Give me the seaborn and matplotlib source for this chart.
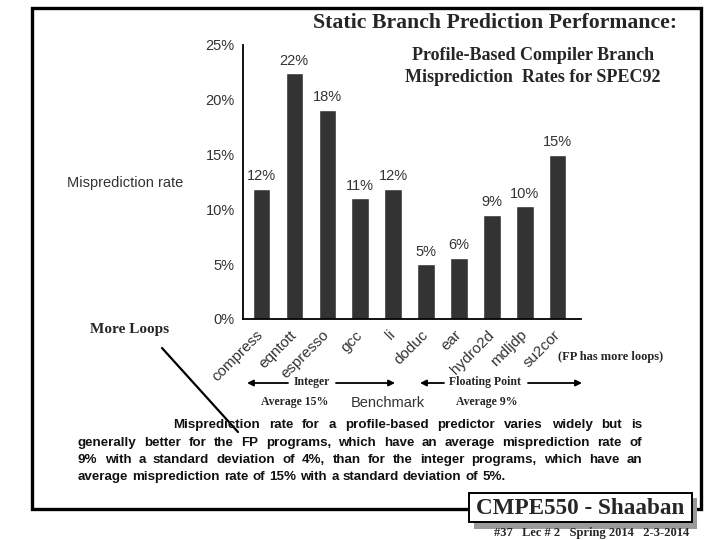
import numpy as np
import pandas as pd
import matplotlib
matplotlib.use("Agg")
import matplotlib.pyplot as plt
import seaborn as sns
from matplotlib.patches import Rectangle
from matplotlib.lines import Line2D

# data
benchmarks = ['compress', 'eqntott', 'espresso', 'gcc', 'li',
              'doduc', 'ear', 'hydro2d', 'mdljdp', 'su2cor']
rates = [11.9, 22.4, 19.1, 11.0, 11.9, 5.0, 5.6, 9.5, 10.3, 15.0]
bar_text = ['12%', '22%', '18%', '11%', '12%', '5%', '6%', '9%', '10%', '15%']
y_ticks = [0, 5, 10, 15, 20, 25]

paragraph = [
    "Misprediction rate for a profile-based predictor varies widely but is",
    "generally better for the FP programs, which have an average misprediction rate of",
    "9% with a standard deviation of 4%, than for the integer programs, which have an",
    "average misprediction rate of 15% with a standard deviation of 5%.",
]

df = pd.DataFrame({'Benchmark': benchmarks, 'Rate': rates})

sns.set_style("white")
SERIF = 'Liberation Serif'
SANS = 'Liberation Sans'
GREY = '#333333'

W, H = 720, 540
fig = plt.figure(figsize=(7.2, 5.4), dpi=100)
renderer = fig.canvas.get_renderer()


def px(x, y):
    # pixel position (top-left origin) -> figure fraction
    return x / W, 1 - y / H


def fit_text(s, x0, x1, y, **kw):
    # size the text so it spans x0..x1 pixels
    t = fig.text(*px((x0 + x1) / 2, y), s, ha='center', va='center',
                 fontsize=10, **kw)
    w = t.get_window_extent(renderer).width
    t.set_fontsize(10 * (x1 - x0) / w)
    return t


# axes placed where the chart sits on the slide
ax = fig.add_axes([243 / W, 1 - 319 / H, (581 - 243) / W, (319 - 45) / H])
sns.barplot(data=df, x='Benchmark', y='Rate', color=GREY, saturation=1,
            width=0.52, ax=ax)
ax.set_xlim(-0.55, 9.7)
ax.set_ylim(0, 25)
sns.despine(ax=ax)
for s in ['left', 'bottom']:
    ax.spines[s].set_linewidth(1.3)
    ax.spines[s].set_color('black')

ax.set_yticks(y_ticks)
ax.set_yticklabels([f"{v}%" for v in y_ticks], fontsize=10.5, color=GREY,
                   family=SANS)
ax.tick_params(axis='y', direction='in', length=5, width=1.3, pad=6)

ax.set_xticks(range(len(benchmarks)))
ax.set_xticklabels(benchmarks, rotation=45, ha='right', va='center',
                   rotation_mode='anchor', fontsize=11, color=GREY, family=SANS)
ax.tick_params(axis='x', which='major', length=0, pad=10)
ax.set_xticks(list(np.arange(0.5, 9, 1)) + [9.7], minor=True)
ax.tick_params(axis='x', which='minor', direction='in', length=4, width=1.3)
ax.set_xlabel('')
ax.set_ylabel('')

ax.bar_label(ax.containers[0], labels=bar_text, padding=4, fontsize=10.5,
             color=GREY, family=SANS)

# slide frame
fx, fy = px(32, 509)
fig.add_artist(Rectangle((fx, fy), (701 - 32) / W, (509 - 8) / H,
                         transform=fig.transFigure, fill=False, lw=2.4,
                         ec='black', zorder=1))

# titles
fit_text("Static Branch Prediction Performance:", 313, 678, 23,
         family=SERIF, weight='bold')
fig.text(*px(533, 55), "Profile-Based Compiler Branch", family=SERIF,
         fontsize=13, weight='bold', ha='center', va='center')
fig.text(*px(533, 78), "Misprediction  Rates for SPEC92", family=SERIF,
         fontsize=13, weight='bold', ha='center', va='center')

fig.text(*px(67, 183), "Misprediction rate", family=SANS, fontsize=10.5,
         color=GREY, ha='left', va='center')
fig.text(*px(90, 330), "More Loops", family=SERIF, fontsize=11,
         weight='bold', ha='left', va='center')
fig.add_artist(Line2D([162 / W, 238 / W], [1 - 348 / H, 1 - 432 / H],
                      transform=fig.transFigure, color='black', lw=1.6))
fig.text(*px(558, 357), "(FP has more loops)", family=SERIF, fontsize=9,
         weight='bold', ha='left', va='center')

# integer / floating point arrows
arrows = [(288, 247), (336, 395), (444, 420), (528, 582)]
for x0, x1 in arrows:
    ax.annotate("", xy=px(x1, 383), xytext=px(x0, 383),
                xycoords='figure fraction', annotation_clip=False,
                arrowprops=dict(arrowstyle='-|>', color='black', lw=1.3,
                                mutation_scale=9, shrinkA=0, shrinkB=0))
fig.text(*px(312, 382), "Integer", family=SERIF, fontsize=8.5,
         weight='bold', ha='center', va='center')
fig.text(*px(485, 382), "Floating Point", family=SERIF, fontsize=8.5,
         weight='bold', ha='center', va='center')
fig.text(*px(295, 402), "Average 15%", family=SERIF, fontsize=8.5,
         weight='bold', ha='center', va='center')
fig.text(*px(487, 402), "Average 9%", family=SERIF, fontsize=8.5,
         weight='bold', ha='center', va='center')
fig.text(*px(388, 403), "Benchmark", family=SANS, fontsize=10.5,
         color=GREY, ha='center', va='center')

# justified paragraph
line_y = [425, 443, 460, 477]
line_x0 = [173, 78, 78, 78]
space_w = fig.text(0, 0, 'a a', fontsize=9.6, family=SANS, weight='bold',
                   alpha=0).get_window_extent(renderer).width
for i, line in enumerate(paragraph):
    words = line.split()
    texts = [fig.text(0, 0, w, family=SANS, fontsize=9.6, weight='bold',
                      ha='left', va='center', color='#111111') for w in words]
    widths = [t.get_window_extent(renderer).width for t in texts]
    if i < 3:
        gap = (642 - line_x0[i] - sum(widths)) / (len(words) - 1)
    else:
        gap = space_w - 2 * texts[0].get_window_extent(renderer).width / len(words[0])
    x = line_x0[i]
    for t, w in zip(texts, widths):
        t.set_position(px(x, line_y[i]))
        x += w + gap

# footer box
sx, sy = px(474, 529)
fig.add_artist(Rectangle((sx, sy), (697 - 474) / W, (529 - 498) / H,
                         transform=fig.transFigure, fc='#9a9a9a', ec='none',
                         zorder=2))
bx, by = px(469, 522)
fig.add_artist(Rectangle((bx, by), (692 - 469) / W, (522 - 493) / H,
                         transform=fig.transFigure, fc='white', ec='black',
                         lw=1.4, zorder=3))
t = fit_text("CMPE550 - Shaaban", 476, 684, 508, family=SERIF, weight='bold')
t.set_zorder(4)
fit_text("#37   Lec # 2   Spring 2014   2-3-2014", 494, 690, 533,
         family=SERIF, weight='bold')

fig.savefig("out.png", dpi=100)
